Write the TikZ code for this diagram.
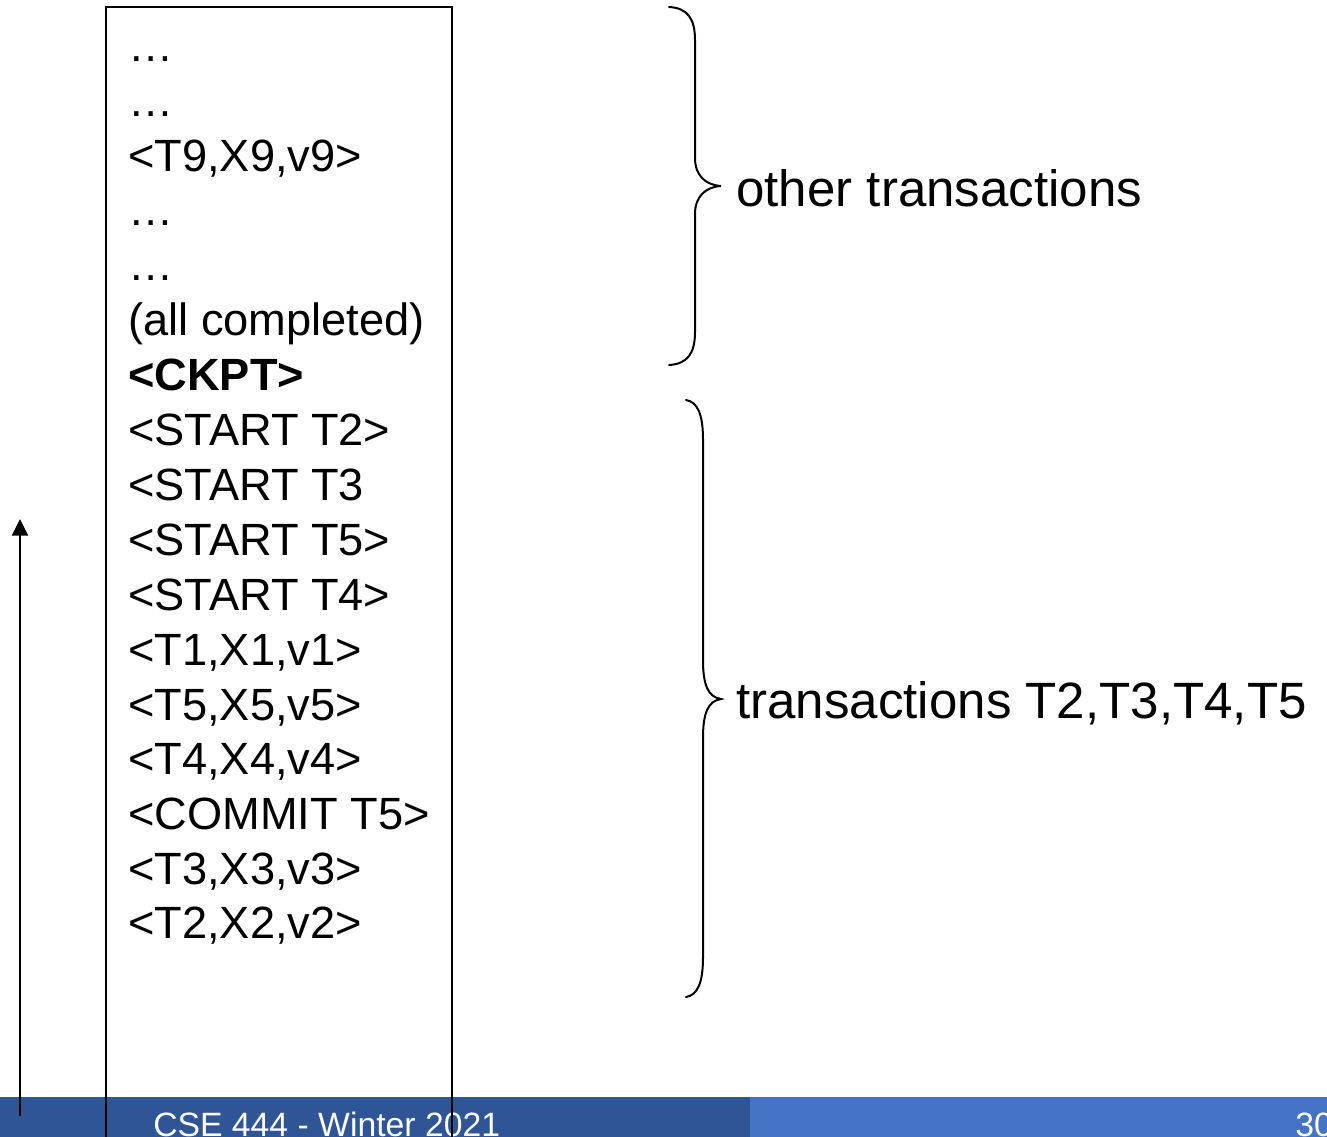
\documentclass[tikz,border=0pt]{standalone}
\usepackage{fontspec}
\setmainfont{Liberation Sans}
\usepackage{xcolor}
\usetikzlibrary{arrows.meta, positioning}

\definecolor{barDark}{RGB}{47,85,151}
\definecolor{barLight}{RGB}{68,114,196}
\newcommand{\logsize}{\fontsize{33.9}{40}\selectfont}
\newcommand{\bracesize}{\fontsize{38.3}{45}\selectfont}
\newcommand{\footsize}{\fontsize{25.3}{30}\selectfont}

\tikzset{
  logline/.style={anchor=base west, inner sep=0pt, font=\logsize},
  bracetext/.style={anchor=base west, inner sep=0pt, font=\bracesize},
  footline/.style={anchor=base west, inner sep=0pt, font=\footsize, text=white},
  brace/.style={line width=1.5pt, line cap=round}
}

\begin{document}
\begin{tikzpicture}[x=0.75pt,y=0.75pt,yscale=-1,xscale=1]
\useasboundingbox (0,0) rectangle (1327,1137);

%Footer bar
\fill [barDark] (0,1097) rectangle (750,1137);
\fill [barLight] (750,1097) rectangle (1327,1137);
% Text Node
\node [footline] (course) at (153,1136) {CSE 444 - Winter 2021};
% Text Node
\node [footline] (page) at (1295,1136) {30};

%Log box
\draw [line width=1.5pt] (106,1140) -- (106,7) -- (452,7) -- (452,1140);

%Log records
\node [logline] (r1) at (128,62) {…};
\node [logline] (r2) at (128,117) {…};
\node [logline] (r3) at (128,172) {<T9,X9,v9>};
\node [logline] (r4) at (128,226) {…};
\node [logline] (r5) at (128,281) {…};
\node [logline] (r6) at (128,336) {(all completed)};
\node [logline, font=\logsize\bfseries] (ckpt) at (128,390) {<CKPT>};
\node [logline] (r8) at (128,445) {<START T2>};
\node [logline] (r9) at (128,500) {<START T3};
\node [logline] (r10) at (128,555) {<START T5>};
\node [logline] (r11) at (128,610) {<START T4>};
\node [logline] (r12) at (128,665) {<T1,X1,v1>};
\node [logline] (r13) at (128,720) {<T5,X5,v5>};
\node [logline] (r14) at (128,774) {<T4,X4,v4>};
\node [logline] (r15) at (128,829) {<COMMIT T5>};
\node [logline] (r16) at (128,884) {<T3,X3,v3>};
\node [logline] (r17) at (128,938) {<T2,X2,v2>};

%Scan direction arrow
\coordinate (scanFrom) at (20,1116);
\coordinate (scanTo) at (20,519);
\draw [line width=1.5pt, -{Triangle[length=12.5pt,width=12pt]}] (scanFrom) -- (scanTo);

%Brace: other transactions
\draw [brace] (669,7) .. controls (687,8) and (695,18) .. (695,40) -- (695,158) .. controls (695,175) and (705,185) .. (721,186) .. controls (705,187) and (695,197) .. (695,214) -- (695,332) .. controls (695,354) and (687,364) .. (669,365);
% Text Node
\node [bracetext] (others) at (736,207) {other transactions};

%Brace: active transactions
\draw [brace] (686,400) .. controls (698,402) and (703,415) .. (703,440) -- (703,660) .. controls (703,685) and (708,697) .. (721,699) .. controls (708,701) and (703,713) .. (703,738) -- (703,957) .. controls (703,982) and (698,995) .. (686,997);
% Text Node
\node [bracetext] (active) at (736,718) {transactions T2,T3,T4,T5};

\end{tikzpicture}
\end{document}
